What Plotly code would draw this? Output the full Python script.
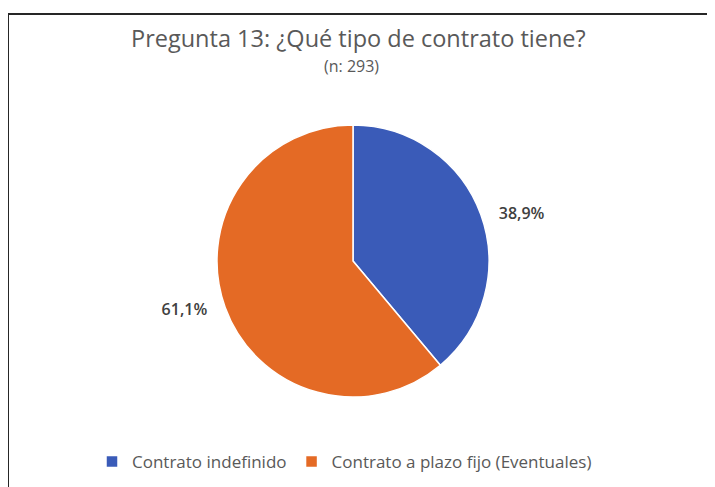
import plotly.graph_objects as go

categories = ["Contrato indefinido", "Contrato a plazo fijo (Eventuales)"]
percentages = [38.9, 61.1]
colors = ["#3A5BB8", "#E46A25"]
title_text = "Pregunta 13: ¿Qué tipo de contrato tiene?"
subtitle_text = "(n: 293)"

FONT = "Open Sans"
W, H = 715, 487
OFF = 8  # page body margin offset
L, R, T, B = 0, 25, 117, 98
pw, ph = W - L - R, H - T - B

def px_x(x):
    return (x - OFF - L) / pw

def px_y(y):
    return (H - B - (y - OFF)) / ph

NB = "\u00a0" * 3
fig = go.Figure(go.Pie(
    labels=categories,
    values=percentages,
    sort=False,
    direction="clockwise",
    rotation=0,
    marker=dict(colors=colors, line=dict(color="white", width=1.5)),
    texttemplate=[NB + "%{percent:.1%}", "%{percent:.1%}" + NB],
    textposition="outside",
    textfont=dict(family=FONT, size=16, color="#404040", weight=600),
    hoverinfo="label+percent",
    showlegend=True,
))

fig.update_layout(
    width=W, height=H,
    margin=dict(l=L, r=R, t=T, b=B, autoexpand=False),
    paper_bgcolor="white",
    plot_bgcolor="white",
    separators=",.",
    font=dict(family=FONT, color="#595959"),
    legend=dict(
        orientation="h",
        x=px_x(92), xanchor="left",
        y=px_y(462), yanchor="middle",
        font=dict(family=FONT, size=17, color="#595959"),
        traceorder="normal",
    ),
    annotations=[
        dict(text=title_text, x=px_x(358), y=px_y(38), xref="paper", yref="paper",
             showarrow=False, xanchor="center", yanchor="middle",
             font=dict(family=FONT, size=23.5, color="#595959")),
        dict(text=subtitle_text, x=px_x(351), y=px_y(66), xref="paper", yref="paper",
             showarrow=False, xanchor="center", yanchor="middle",
             font=dict(family=FONT, size=16, color="#595959")),
    ],
    shapes=[
        dict(type="line", xref="paper", yref="paper",
             x0=px_x(8), x1=px_x(730), y0=px_y(14), y1=px_y(14),
             line=dict(color="#262626", width=2)),
        dict(type="line", xref="paper", yref="paper",
             x0=px_x(8), x1=px_x(8), y0=px_y(14), y1=px_y(500),
             line=dict(color="#262626", width=2)),
    ],
)

fig.write_html("out.html")
